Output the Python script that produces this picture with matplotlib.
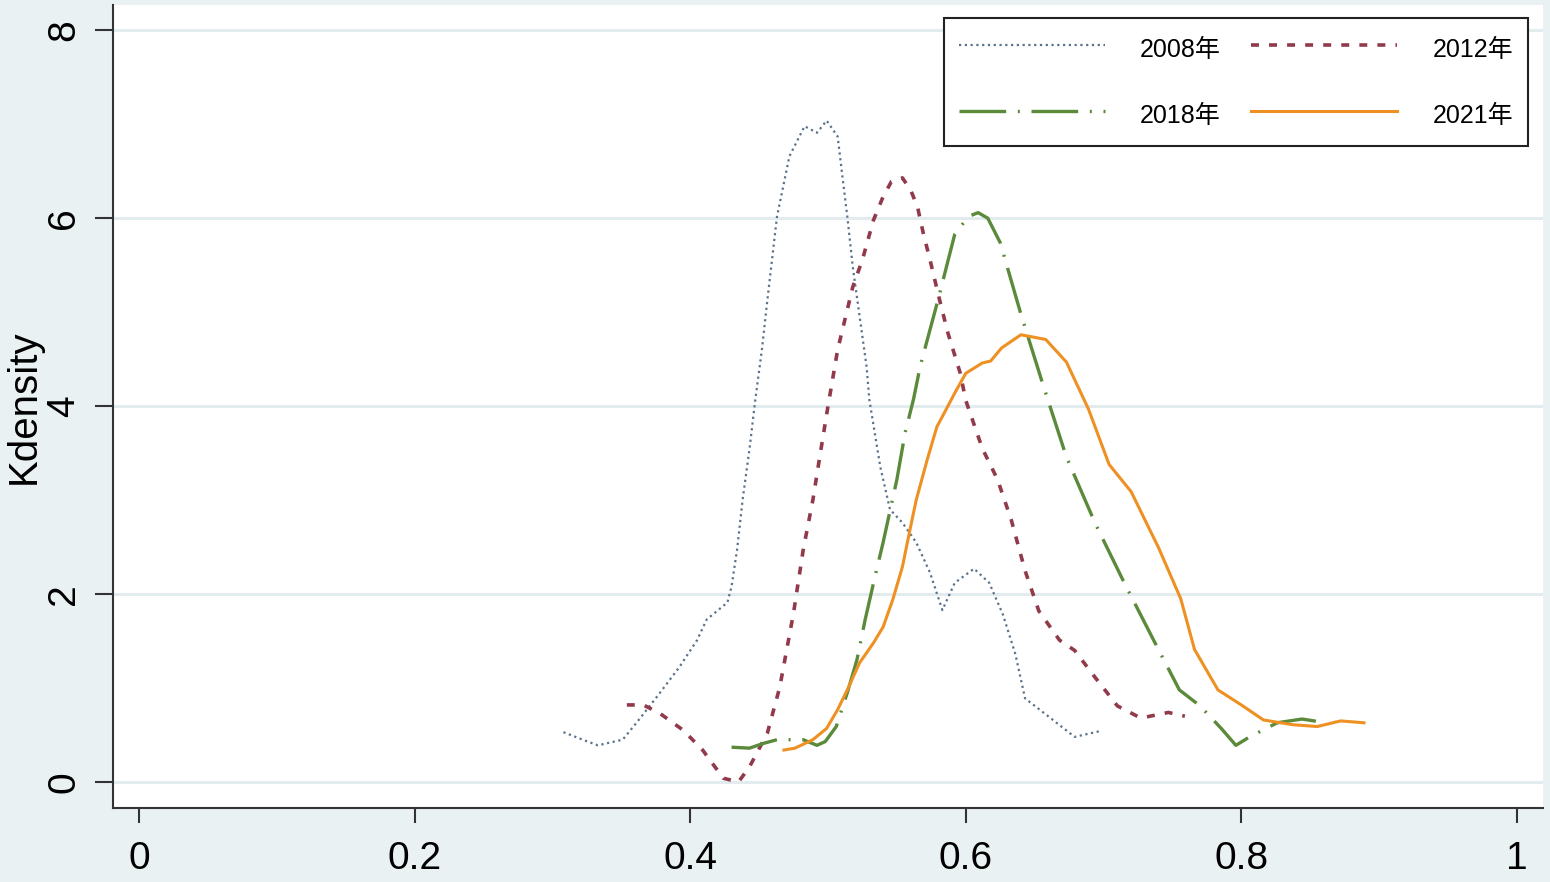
import matplotlib
matplotlib.use("Agg")
import matplotlib.pyplot as plt

plt.rcParams["font.family"] = ["Liberation Sans", "Noto Sans CJK SC", "DejaVu Sans"]

# kernel density curves
x2008 = [0.308, 0.322, 0.333, 0.351, 0.361, 0.376, 0.392, 0.405, 0.412, 0.427, 0.430, 0.434,
         0.438, 0.443, 0.447, 0.452, 0.456, 0.463, 0.472, 0.483, 0.492, 0.499, 0.507, 0.511,
         0.514, 0.518, 0.523, 0.528, 0.530, 0.538, 0.545, 0.554, 0.564, 0.574, 0.583, 0.592,
         0.606, 0.617, 0.627, 0.636, 0.643, 0.658, 0.679, 0.697]
y2008 = [0.53, 0.45, 0.39, 0.45, 0.63, 0.91, 1.22, 1.51, 1.73, 1.91, 2.08, 2.47,
         3.00, 3.54, 4.04, 4.60, 5.13, 6.02, 6.66, 6.98, 6.91, 7.04, 6.87, 6.38,
         6.02, 5.48, 4.95, 4.42, 4.07, 3.35, 2.90, 2.76, 2.55, 2.23, 1.83, 2.12,
         2.27, 2.12, 1.78, 1.36, 0.89, 0.72, 0.48, 0.54]

x2012 = [0.354, 0.366, 0.378, 0.395, 0.409, 0.424, 0.435, 0.443, 0.456, 0.465, 0.475, 0.482,
         0.489, 0.494, 0.500, 0.507, 0.518, 0.525, 0.533, 0.540, 0.546, 0.554, 0.560, 0.565,
         0.569, 0.574, 0.581, 0.587, 0.596, 0.600, 0.612, 0.623, 0.633, 0.643, 0.653, 0.668,
         0.679, 0.694, 0.710, 0.727, 0.747, 0.759]
y2012 = [0.82, 0.82, 0.73, 0.55, 0.34, 0.04, 0.00, 0.16, 0.52, 1.01, 1.80, 2.47,
         3.00, 3.46, 4.00, 4.60, 5.27, 5.56, 5.98, 6.23, 6.39, 6.43, 6.30, 6.12,
         5.85, 5.56, 5.13, 4.78, 4.35, 4.06, 3.55, 3.22, 2.79, 2.25, 1.82, 1.51,
         1.40, 1.11, 0.81, 0.68, 0.74, 0.70]

x2018 = [0.430, 0.443, 0.453, 0.463, 0.482, 0.492, 0.498, 0.506, 0.514, 0.521, 0.527, 0.534,
         0.540, 0.550, 0.556, 0.562, 0.567, 0.580, 0.592, 0.602, 0.609, 0.616, 0.625, 0.640,
         0.656, 0.673, 0.694, 0.715, 0.737, 0.755, 0.770, 0.786, 0.796, 0.806, 0.826, 0.844,
         0.857]
y2018 = [0.37, 0.36, 0.41, 0.45, 0.45, 0.39, 0.43, 0.59, 0.95, 1.30, 1.73, 2.18,
         2.55, 3.22, 3.72, 4.07, 4.43, 5.14, 5.83, 6.02, 6.06, 6.00, 5.74, 4.98,
         4.23, 3.46, 2.75, 2.12, 1.49, 0.98, 0.81, 0.56, 0.39, 0.48, 0.63, 0.67,
         0.64]

x2021 = [0.468, 0.476, 0.489, 0.499, 0.507, 0.514, 0.523, 0.533, 0.540, 0.547, 0.554, 0.559,
         0.564, 0.572, 0.579, 0.587, 0.592, 0.600, 0.612, 0.618, 0.626, 0.640, 0.658, 0.673,
         0.689, 0.704, 0.720, 0.740, 0.756, 0.766, 0.783, 0.801, 0.816, 0.837, 0.855, 0.872,
         0.889]
y2021 = [0.34, 0.36, 0.45, 0.57, 0.77, 0.98, 1.27, 1.48, 1.65, 1.94, 2.29, 2.65,
         3.00, 3.43, 3.78, 4.00, 4.14, 4.35, 4.46, 4.48, 4.62, 4.76, 4.71, 4.47,
         3.97, 3.38, 3.09, 2.49, 1.95, 1.41, 0.98, 0.81, 0.66, 0.61, 0.59, 0.65,
         0.63]

xticks = [0, 0.2, 0.4, 0.6, 0.8, 1]
xticklabels = ["0", "0.2", "0.4", "0.6", "0.8", "1"]
yticks = [0, 2, 4, 6, 8]

bg = "#e9f1f3"
fig = plt.figure(figsize=(15.5, 8.82), dpi=100, facecolor=bg)
ax = fig.add_axes([113 / 1550, 1 - 808 / 882, 1430 / 1550, 803 / 882])
ax.set_facecolor("white")

ax.set_xlim(-0.0189, 1.0189)
ax.set_ylim(-0.277, 8.27)

for t in yticks:
    ax.axhline(t, color="#e2ebee", lw=2.2, zorder=0)

kw = dict(solid_joinstyle="round", dash_joinstyle="round")
l08, = ax.plot(x2008, y2008, color="#5b728a", lw=1.6, linestyle=(0, (1, 1.6)), label="2008年", **kw)
l12, = ax.plot(x2012, y2012, color="#913a4b", lw=2.6, linestyle=(0, (2.2, 2.8)), label="2012年", **kw)
l18, = ax.plot(x2018, y2018, color="#5b8a3a", lw=2.4, linestyle=(0, (14, 3.5, 0.6, 3.5)),
               label="2018年", **kw)
l21, = ax.plot(x2021, y2021, color="#ee9022", lw=2.2, label="2021年", **kw)

for s in ["top", "right"]:
    ax.spines[s].set_visible(False)
for s in ["left", "bottom"]:
    ax.spines[s].set_color("#333333")
    ax.spines[s].set_linewidth(1.5)

ax.set_xticks(xticks)
ax.set_xticklabels(xticklabels)
ax.set_yticks(yticks)
ax.tick_params(axis="x", length=11, width=1.5, color="#333333", pad=13, labelsize=28)
ax.tick_params(axis="y", length=13, width=1.5, color="#333333", pad=9, labelsize=28,
               labelrotation=90)
for lab in ax.get_yticklabels():
    lab.set_va("center")

ax.set_ylabel("Kdensity", fontsize=29)
ax.yaxis.set_label_coords(-0.049, 0.5)

# row-wise order: 2008, 2012 on top; 2018, 2021 below
leg = ax.legend([l08, l18, l12, l21], ["2008年", "2018年", "2012年", "2021年"],
                ncol=2, loc="upper right", bbox_to_anchor=(0.9895, 0.9838), borderaxespad=0,
                fontsize=18, handlelength=5.85, handleheight=1.6, handletextpad=1.4,
                columnspacing=1.2, labelspacing=1.36, borderpad=0.6,
                frameon=True, fancybox=False, framealpha=1, edgecolor="#222222")
leg.get_frame().set_linewidth(1.5)

fig.savefig("out.png", dpi=100, facecolor=bg)
